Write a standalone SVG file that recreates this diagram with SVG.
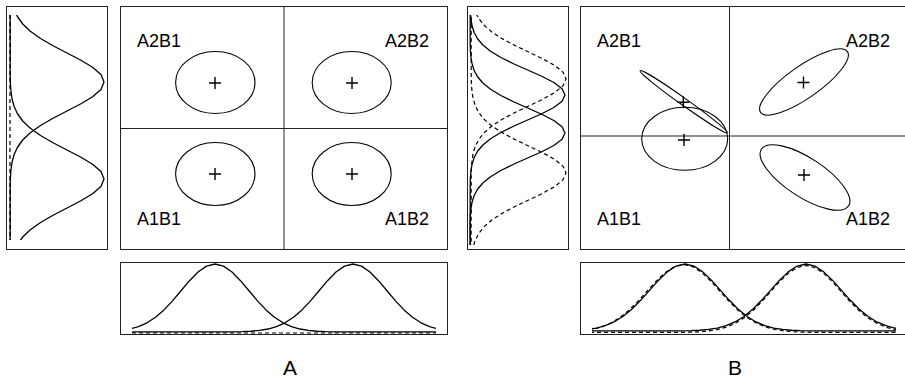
<svg xmlns="http://www.w3.org/2000/svg" xmlns:xlink="http://www.w3.org/1999/xlink" width="905" height="379" viewBox="0 0 905 379">
<style>
.box{fill:none;stroke:#222;stroke-width:1}
.div{fill:none;stroke:#222;stroke-width:1}
.cur{fill:none;stroke:#000;stroke-width:1.3;stroke-linejoin:round}
.dash{fill:none;stroke:#000;stroke-width:1.2;stroke-dasharray:4 3}
.ell{fill:none;stroke:#000;stroke-width:1.1}
.plus{fill:none;stroke:#000;stroke-width:1.4}
.lab{font-family:"Liberation Sans",Arial,sans-serif;font-size:18px;fill:#000}
.big{font-family:"Liberation Sans",Arial,sans-serif;font-size:21px;fill:#000;text-anchor:middle}
</style>
<defs>
<path id="g" vector-effect="non-scaling-stroke" d="M-12,0 L-3.5,-0.0022 L-3.25,-0.0051 L-3,-0.0111 L-2.75,-0.0228 L-2.5,-0.0439 L-2.25,-0.0796 L-2,-0.1353 L-1.75,-0.2163 L-1.5,-0.3247 L-1.25,-0.4578 L-1,-0.6065 L-0.75,-0.7548 L-0.5,-0.8825 L-0.25,-0.9692 L0,-1 L0.25,-0.9692 L0.5,-0.8825 L0.75,-0.7548 L1,-0.6065 L1.25,-0.4578 L1.5,-0.3247 L1.75,-0.2163 L2,-0.1353 L2.25,-0.0796 L2.5,-0.0439 L2.75,-0.0228 L3,-0.0111 L3.25,-0.0051 L3.5,-0.0022 L12,0"/>
<path id="p" d="M-6,0H6M0,-6V6"/>
<clipPath id="cAL" clipPathUnits="userSpaceOnUse"><rect x="0" y="15" width="115" height="225"/></clipPath>
<clipPath id="cAB" clipPathUnits="userSpaceOnUse"><rect x="132" y="255" width="304" height="90"/></clipPath>
<clipPath id="cBL" clipPathUnits="userSpaceOnUse"><rect x="460" y="15" width="115" height="230"/></clipPath>
<clipPath id="cBB" clipPathUnits="userSpaceOnUse"><rect x="592" y="255" width="304" height="90"/></clipPath>
</defs>

<g id="panelA-left">
<rect class="box" x="6.5" y="6.5" width="101" height="243"/>
<line class="dash" x1="10" y1="15" x2="10" y2="240"/>
<g clip-path="url(#cAL)">
<use xlink:href="#g" class="cur" transform="matrix(0 29 -94 0 10 82)"/>
<use xlink:href="#g" class="cur" transform="matrix(0 29 -94 0 10 179)"/>
</g>
</g>

<g id="panelA-main">
<rect class="box" x="120.5" y="6.5" width="327" height="243"/>
<line class="div" x1="284" y1="6.5" x2="284" y2="249.5"/>
<line class="div" x1="120.5" y1="128.5" x2="447.5" y2="128.5"/>
<ellipse class="ell" cx="215.3" cy="82.5" rx="39.7" ry="31"/>
<ellipse class="ell" cx="351.7" cy="82.5" rx="39.5" ry="31"/>
<ellipse class="ell" cx="215.3" cy="174" rx="39.7" ry="31.5"/>
<ellipse class="ell" cx="351.7" cy="174" rx="39.5" ry="31.5"/>
<use xlink:href="#p" class="plus" x="215" y="83"/>
<use xlink:href="#p" class="plus" x="352" y="83"/>
<use xlink:href="#p" class="plus" x="215" y="174"/>
<use xlink:href="#p" class="plus" x="352" y="174"/>
<text class="lab" x="137" y="47">A2B1</text>
<text class="lab" x="429" y="47" text-anchor="end">A2B2</text>
<text class="lab" x="137" y="225">A1B1</text>
<text class="lab" x="429" y="225" text-anchor="end">A1B2</text>
</g>

<g id="panelA-bottom">
<rect class="box" x="120.5" y="262.5" width="327" height="72"/>
<line class="dash" x1="132" y1="333" x2="436" y2="333"/>
<g clip-path="url(#cAB)">
<use xlink:href="#g" class="cur" transform="matrix(34 0 0 68 215 332)"/>
<use xlink:href="#g" class="cur" transform="matrix(34 0 0 68 353 332)"/>
</g>
<text class="big" x="290" y="375">A</text>
</g>

<g id="panelB-left">
<rect class="box" x="467.5" y="6.5" width="101" height="243"/>
<g clip-path="url(#cBL)">
<use xlink:href="#g" class="cur" transform="matrix(0 25 -95 0 470 95)"/>
<use xlink:href="#g" class="cur" transform="matrix(0 25 -95 0 470 133)"/>
<use xlink:href="#g" class="dash" transform="matrix(0 27 -95 0 471 79)"/>
<use xlink:href="#g" class="dash" transform="matrix(0 27 -95 0 471 173)"/>
</g>
</g>

<g id="panelB-main">
<rect class="box" x="580.5" y="6.5" width="330" height="243"/>
<line class="div" x1="729.5" y1="6.5" x2="729.5" y2="249.5"/>
<line class="div" x1="580.5" y1="136" x2="910" y2="136"/>
<ellipse class="ell" cx="684.7" cy="138.8" rx="43" ry="31.5"/>
<ellipse class="ell" cx="0" cy="0" rx="53.5" ry="3.5" transform="translate(683.7 101.7) rotate(35.4)"/>
<ellipse class="ell" cx="0" cy="0" rx="53" ry="16" transform="translate(804 82) rotate(-35)"/>
<ellipse class="ell" cx="0" cy="0" rx="52" ry="19.5" transform="translate(805 177.5) rotate(33)"/>
<use xlink:href="#p" class="plus" x="684" y="140"/>
<use xlink:href="#p" class="plus" x="683.3" y="102.3"/>
<use xlink:href="#p" class="plus" x="803.5" y="82.5"/>
<use xlink:href="#p" class="plus" x="804" y="175"/>
<text class="lab" x="597" y="47">A2B1</text>
<text class="lab" x="890" y="47" text-anchor="end">A2B2</text>
<text class="lab" x="597" y="225">A1B1</text>
<text class="lab" x="890" y="225" text-anchor="end">A1B2</text>
</g>

<g id="panelB-bottom">
<rect class="box" x="580.5" y="262.5" width="330" height="72"/>
<g clip-path="url(#cBB)">
<use xlink:href="#g" class="dash" transform="matrix(36.5 0 0 68 683.5 332.5)"/>
<use xlink:href="#g" class="dash" transform="matrix(35.5 0 0 67 806 332.5)"/>
<use xlink:href="#g" class="cur" transform="matrix(35.5 0 0 67 685 331)"/>
<use xlink:href="#g" class="cur" transform="matrix(35.5 0 0 67 806 331)"/>
</g>
<text class="big" x="735" y="375">B</text>
</g>
</svg>
